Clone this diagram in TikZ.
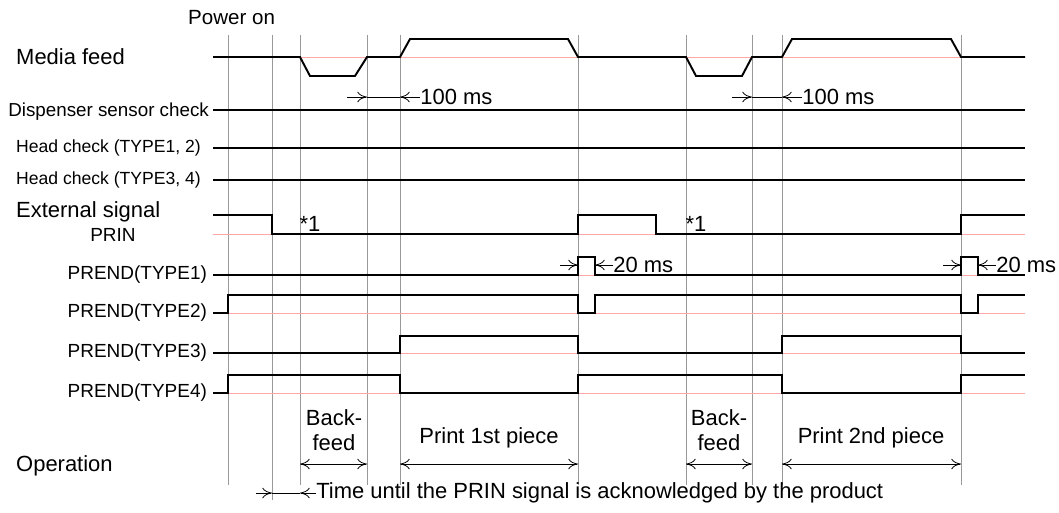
\documentclass[tikz,border=0pt]{standalone}
\usepackage{fontspec}
\setmainfont{Liberation Sans}
\usetikzlibrary{arrows,arrows.meta}

\begin{document}
\begin{tikzpicture}[x=0.02cm,y=-0.02cm,font=\fontsize{12.5}{14}\selectfont,
  grid/.style={gray!80,line width=0.45pt},
  sig/.style={line width=1.1pt},
  ref/.style={red!35,line width=0.5pt},
  dim/.style={line width=0.45pt,>={To[length=5.5pt,width=6pt]}},
  lbl/.style={anchor=east,inner sep=1pt,font=\fontsize{10.8}{12}\selectfont}]
\useasboundingbox (0,0) rectangle (1059,512);

% grid lines
\foreach \x in {228,300,367,400,578,686,752,782,961}
  \draw[grid] (\x,35) -- (\x,485);
\draw[grid] (272,35) -- (272,500);

% reference lines
\foreach \y in {57,234,275,313,353,393}
  \draw[ref] (213,\y) -- (1025,\y);

% labels
\node[anchor=west,font=\fontsize{11.7}{13}\selectfont] (pwr) at (182,18) {Power on};
\node[anchor=west] (mf) at (10,57) {Media feed};
\node[anchor=east,inner sep=1pt,font=\fontsize{10.7}{12}\selectfont] (dsc) at (211,112) {Dispenser sensor check};
\node[anchor=west,font=\fontsize{10}{11}\selectfont] (hc12) at (10,148) {Head check (TYPE1, 2)};
\node[anchor=west,font=\fontsize{10}{11}\selectfont] (hc34) at (10,180) {Head check (TYPE3, 4)};
\node[anchor=west] (ext) at (10,212) {External signal};
\node[font=\fontsize{10.8}{12}\selectfont] (prin) at (113,235) {PRIN};
\node[lbl] (t1) at (209,275) {PREND(TYPE1)};
\node[lbl] (t2) at (209,313) {PREND(TYPE2)};
\node[lbl] (t3) at (209,353) {PREND(TYPE3)};
\node[lbl] (t4) at (209,393) {PREND(TYPE4)};
\node[anchor=west] (op) at (10,466) {Operation};

% signals
\draw[sig] (213,57) -- (300,57) -- (310,76) -- (355,76) -- (367,57) -- (400,57) -- (410,39) -- (568,39) -- (578,57)
  -- (686,57) -- (696,76) -- (742,76) -- (752,57) -- (782,57) -- (792,39) -- (951,39) -- (961,57) -- (1025,57);
\draw[sig] (213,110) -- (1025,110);
\draw[sig] (213,148) -- (1025,148);
\draw[sig] (213,180) -- (1025,180);
\draw[sig] (213,215) -- (272,215) -- (272,234) -- (578,234) -- (578,215) -- (656,215) -- (656,234) -- (961,234) -- (961,215) -- (1025,215);
\draw[sig] (213,275) -- (578,275) -- (578,257) -- (595,257) -- (595,275) -- (961,275) -- (961,257) -- (978,257) -- (978,275) -- (1025,275);
\draw[sig] (213,313) -- (228,313) -- (228,295) -- (578,295) -- (578,313) -- (595,313) -- (595,295) -- (961,295) -- (961,313) -- (978,313) -- (978,295) -- (1025,295);
\draw[sig] (213,353) -- (400,353) -- (400,336) -- (578,336) -- (578,353) -- (782,353) -- (782,336) -- (961,336) -- (961,353) -- (1025,353);
\draw[sig] (213,393) -- (228,393) -- (228,375) -- (400,375) -- (400,393) -- (578,393) -- (578,375) -- (782,375) -- (782,393) -- (961,393) -- (961,375) -- (1025,375);

\node (s1a) at (310,224) {*1};
\node (s1b) at (696,224) {*1};

% 100 ms
\foreach \a/\b in {367/400,752/782}{
  \draw[dim] (\a,97) -- (\b,97);
  \draw[dim,->] (\a-20,97) -- (\a,97);
  \draw[dim,->] (\b+20,97) -- (\b,97);
  \node[anchor=west,inner sep=0pt] at (\b+20,97) {100 ms};
}
% 20 ms
\foreach \a/\b in {578/595,961/978}{
  \draw[dim,->] (\a-18,265) -- (\a,265);
  \draw[dim,->] (\b+18,265) -- (\b,265);
  \node[anchor=west,inner sep=0pt] at (\b+18,265) {20 ms};
}

% operation
\node[align=center,inner sep=0pt] (bf1) at (334,430) {Back-\\feed};
\node[align=center,inner sep=0pt] (bf2) at (719,430) {Back-\\feed};
\node (pr1) at (489,438) {Print 1st piece};
\node (pr2) at (871,438) {Print 2nd piece};
\draw[dim,<->] (300,464) -- (367,464);
\draw[dim,<->] (400,464) -- (578,464);
\draw[dim,<->] (686,464) -- (752,464);
\draw[dim,<->] (782,464) -- (961,464);

% acknowledge time
\draw[dim,->] (256,493) -- (272,493);
\draw[dim] (272,493) -- (300,493);
\draw[dim,->] (316,493) -- (300,493);
\node[anchor=west,inner sep=0pt] (ack) at (316,493) {Time until the PRIN signal is acknowledged by the product};
\end{tikzpicture}
\end{document}
